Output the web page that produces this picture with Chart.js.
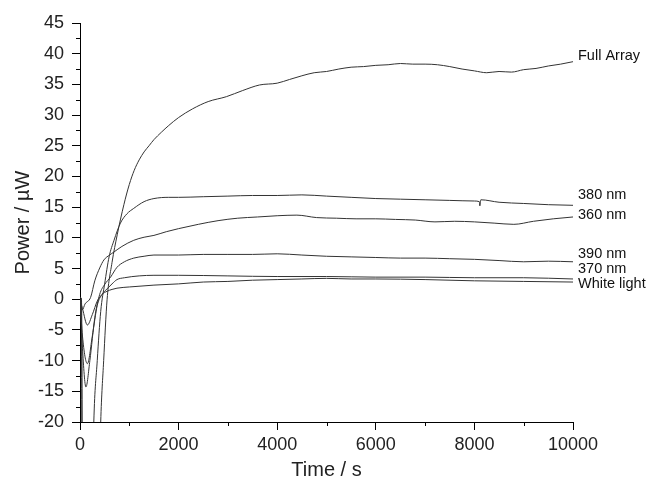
<!DOCTYPE html>
<html>
<head>
<meta charset="utf-8">
<title>Power vs time</title>
<script src="https://cdn.jsdelivr.net/npm/chart.js"></script>
<style>
  html, body { margin: 0; padding: 0; background: #fff; }
  canvas { display: block; }
</style>
</head>
<body>
<canvas id="chart" width="656" height="486"></canvas>
<script>
// series: time (s) and power (uW)
var fullT = [0, 30, 50, 360, 420, 480, 550, 650, 755, 890, 1000, 1100, 1200, 1300, 1400, 1500, 1650, 1800, 2000, 2280, 2600, 2970, 3300, 3640, 4000, 4250, 4500, 4750, 5000, 5250, 5500, 5750, 6000, 6250, 6500, 6750, 7000, 7250, 7500, 7750, 8000, 8250, 8500, 8750, 9000, 9250, 9500, 9750, 10000];
var fullP = [0.3, 0, -40, -40, -20, -10, 0, 6, 10.5, 15.4, 18.7, 21, 22.7, 24, 25, 26, 27.2, 28.3, 29.6, 31, 32.2, 33, 34, 34.9, 35.2, 35.8, 36.4, 36.9, 37.1, 37.5, 37.8, 37.9, 38.1, 38.2, 38.4, 38.3, 38.3, 38.2, 37.9, 37.5, 37.2, 36.9, 37.1, 37.0, 37.4, 37.6, 38, 38.3, 38.7];

var n380T = [0, 30, 50, 230, 280, 350, 420, 500, 590, 690, 820, 950, 1090, 1300, 1500, 1800, 2000, 2500, 3000, 3500, 4000, 4500, 5000, 5500, 6000, 6500, 7000, 7500, 8000, 8100, 8110, 8130, 8500, 9000, 9500, 10000];
var n380P = [0.3, 0, -40, -40, -20, -10, -2, 2.5, 6.9, 9.6, 12.4, 13.9, 14.8, 15.9, 16.4, 16.6, 16.6, 16.7, 16.8, 16.9, 16.9, 17, 16.8, 16.6, 16.4, 16.3, 16.2, 16.1, 16, 15.9, 15.2, 16.2, 15.8, 15.6, 15.4, 15.3];

var n360T = [0, 50, 100, 215, 300, 400, 485, 600, 690, 850, 1090, 1300, 1500, 1750, 2000, 2400, 2800, 3200, 3600, 4000, 4400, 4800, 5200, 5600, 6000, 6400, 6800, 7200, 7600, 8000, 8400, 8800, 9200, 9600, 10000];
var n360P = [-0.5, -1.7, -0.8, 0.3, 3, 5.1, 6.4, 7.2, 7.7, 8.6, 9.6, 10.1, 10.4, 11, 11.5, 12.2, 12.8, 13.2, 13.4, 13.6, 13.7, 13.3, 13.2, 13.1, 13.1, 13, 12.9, 12.6, 12.7, 12.6, 12.4, 12.2, 12.7, 13.1, 13.4];

var n390T = [0, 50, 120, 200, 300, 400, 500, 620, 750, 900, 1090, 1300, 1500, 2000, 2500, 3000, 3500, 4000, 4500, 5000, 5500, 6000, 6500, 7000, 7500, 8000, 8500, 9000, 9500, 10000];
var n390P = [0, -8, -14.3, -10, -3, 0.8, 2.4, 3.6, 5.2, 6.1, 6.7, 7, 7.2, 7.2, 7.3, 7.3, 7.3, 7.4, 7.2, 7, 6.9, 6.8, 6.7, 6.7, 6.6, 6.5, 6.3, 6.1, 6.2, 6.1];

var n370T = [0, 50, 150, 250, 350, 450, 550, 650, 750, 900, 1200, 1500, 2000, 3000, 4000, 5000, 6000, 7000, 8000, 9000, 10000];
var n370P = [0, -6, -10.5, -6, -1, 0.8, 1.7, 2.5, 3.2, 3.5, 3.8, 3.9, 3.9, 3.8, 3.7, 3.7, 3.6, 3.6, 3.5, 3.5, 3.3];

var whiteT = [0, 50, 150, 250, 350, 450, 550, 650, 750, 1000, 1500, 2000, 2500, 3000, 3500, 4000, 4500, 5000, 5500, 6000, 7000, 8000, 9000, 10000];
var whiteP = [0, -1.5, -4.2, -2.5, -0.3, 0.8, 1.3, 1.6, 1.8, 2, 2.3, 2.5, 2.8, 2.9, 3.1, 3.2, 3.3, 3.4, 3.3, 3.3, 3.2, 3, 2.9, 2.8];

// curve labels at the right end and the power level they sit at
var seriesNames = ["Full Array", "380 nm", "360 nm", "390 nm", "370 nm", "White light"];
var labelLevels = [39.6, 16.9, 13.8, 7.3, 4.9, 2.5];

function pts(t, p) {
    var out = [];
    for (var i = 0; i < t.length; i++) out.push({x: t[i], y: p[i]});
    return out;
}

var curves = [pts(fullT, fullP), pts(n380T, n380P), pts(n360T, n360P), pts(n390T, n390P), pts(n370T, n370P), pts(whiteT, whiteP)];

var datasets = curves.map(function(d, i) {
    return {
        label: seriesNames[i],
        data: d,
        borderColor: "#333",
        borderWidth: 1,
        pointRadius: 0,
        cubicInterpolationMode: "monotone",
        fill: false
    };
});

// labels next to the line ends
var endLabels = {
    id: "endLabels",
    afterDatasetsDraw: function(chart) {
        var ctx = chart.ctx;
        var xs = chart.scales.x, ys = chart.scales.y;
        ctx.save();
        ctx.font = "14.5px 'Liberation Sans', Arial, sans-serif";
        ctx.fillStyle = "#111";
        ctx.textBaseline = "middle";
        ctx.textAlign = "left";
        for (var i = 0; i < seriesNames.length; i++) {
            ctx.fillText(seriesNames[i], xs.getPixelForValue(10000) + 5, ys.getPixelForValue(labelLevels[i]));
        }
        ctx.restore();
    }
};

// short minor ticks between the labelled ones
var minorTicks = {
    id: "minorTicks",
    afterDraw: function(chart) {
        var ctx = chart.ctx;
        var xs = chart.scales.x, ys = chart.scales.y;
        ctx.save();
        ctx.strokeStyle = "#000";
        ctx.lineWidth = 1;
        ctx.beginPath();
        ys.ticks.forEach(function(t) {
            if (t.value % 5 !== 0) {
                var y = Math.round(ys.getPixelForValue(t.value)) + 0.5;
                ctx.moveTo(xs.left - 4, y);
                ctx.lineTo(xs.left, y);
            }
        });
        xs.ticks.forEach(function(t) {
            if (t.value % 2000 !== 0) {
                var x = Math.round(xs.getPixelForValue(t.value)) + 0.5;
                ctx.moveTo(x, ys.bottom);
                ctx.lineTo(x, ys.bottom + 4);
            }
        });
        ctx.stroke();
        ctx.restore();
    }
};

var fontFam = "'Liberation Sans', Arial, sans-serif";

var chart = new Chart(document.getElementById("chart"), {
    type: "line",
    data: { datasets: datasets },
    options: {
        responsive: false,
        animation: false,
        layout: { padding: { left: 0, right: 83, top: 23, bottom: 0 } },
        plugins: {
            legend: { display: false },
            tooltip: { enabled: false }
        },
        scales: {
            x: {
                type: "linear",
                min: 0,
                max: 10000,
                afterFit: function(s) { s.height = 64; },
                border: { color: "#000", width: 1 },
                grid: {
                    drawOnChartArea: false,
                    tickLength: 8,
                    tickColor: function(c) { return c.tick && c.tick.value % 2000 === 0 ? "#000" : "rgba(0,0,0,0)"; }
                },
                ticks: {
                    stepSize: 1000,
                    autoSkip: false,
                    maxRotation: 0,
                    padding: 4,
                    color: "#222",
                    font: { family: fontFam, size: 18 },
                    callback: function(v) { return v % 2000 === 0 ? String(v) : ""; }
                },
                title: {
                    display: true,
                    text: "Time / s",
                    color: "#222",
                    font: { family: fontFam, size: 20 },
                    padding: { top: 0, bottom: 4 }
                }
            },
            y: {
                min: -20,
                max: 45,
                afterFit: function(s) { s.width = 80; },
                border: { color: "#000", width: 1 },
                grid: {
                    drawOnChartArea: false,
                    tickLength: 8,
                    tickColor: function(c) { return c.tick && c.tick.value % 5 === 0 ? "#000" : "rgba(0,0,0,0)"; }
                },
                ticks: {
                    stepSize: 2.5,
                    autoSkip: false,
                    padding: 8,
                    color: "#222",
                    font: { family: fontFam, size: 18 },
                    callback: function(v) { return v % 5 === 0 ? String(v) : ""; }
                },
                title: {
                    display: true,
                    text: "Power / \u00b5W",
                    color: "#222",
                    font: { family: fontFam, size: 20 },
                    padding: { top: 11, bottom: 0 }
                }
            }
        }
    },
    plugins: [endLabels, minorTicks]
});
</script>
</body>
</html>
